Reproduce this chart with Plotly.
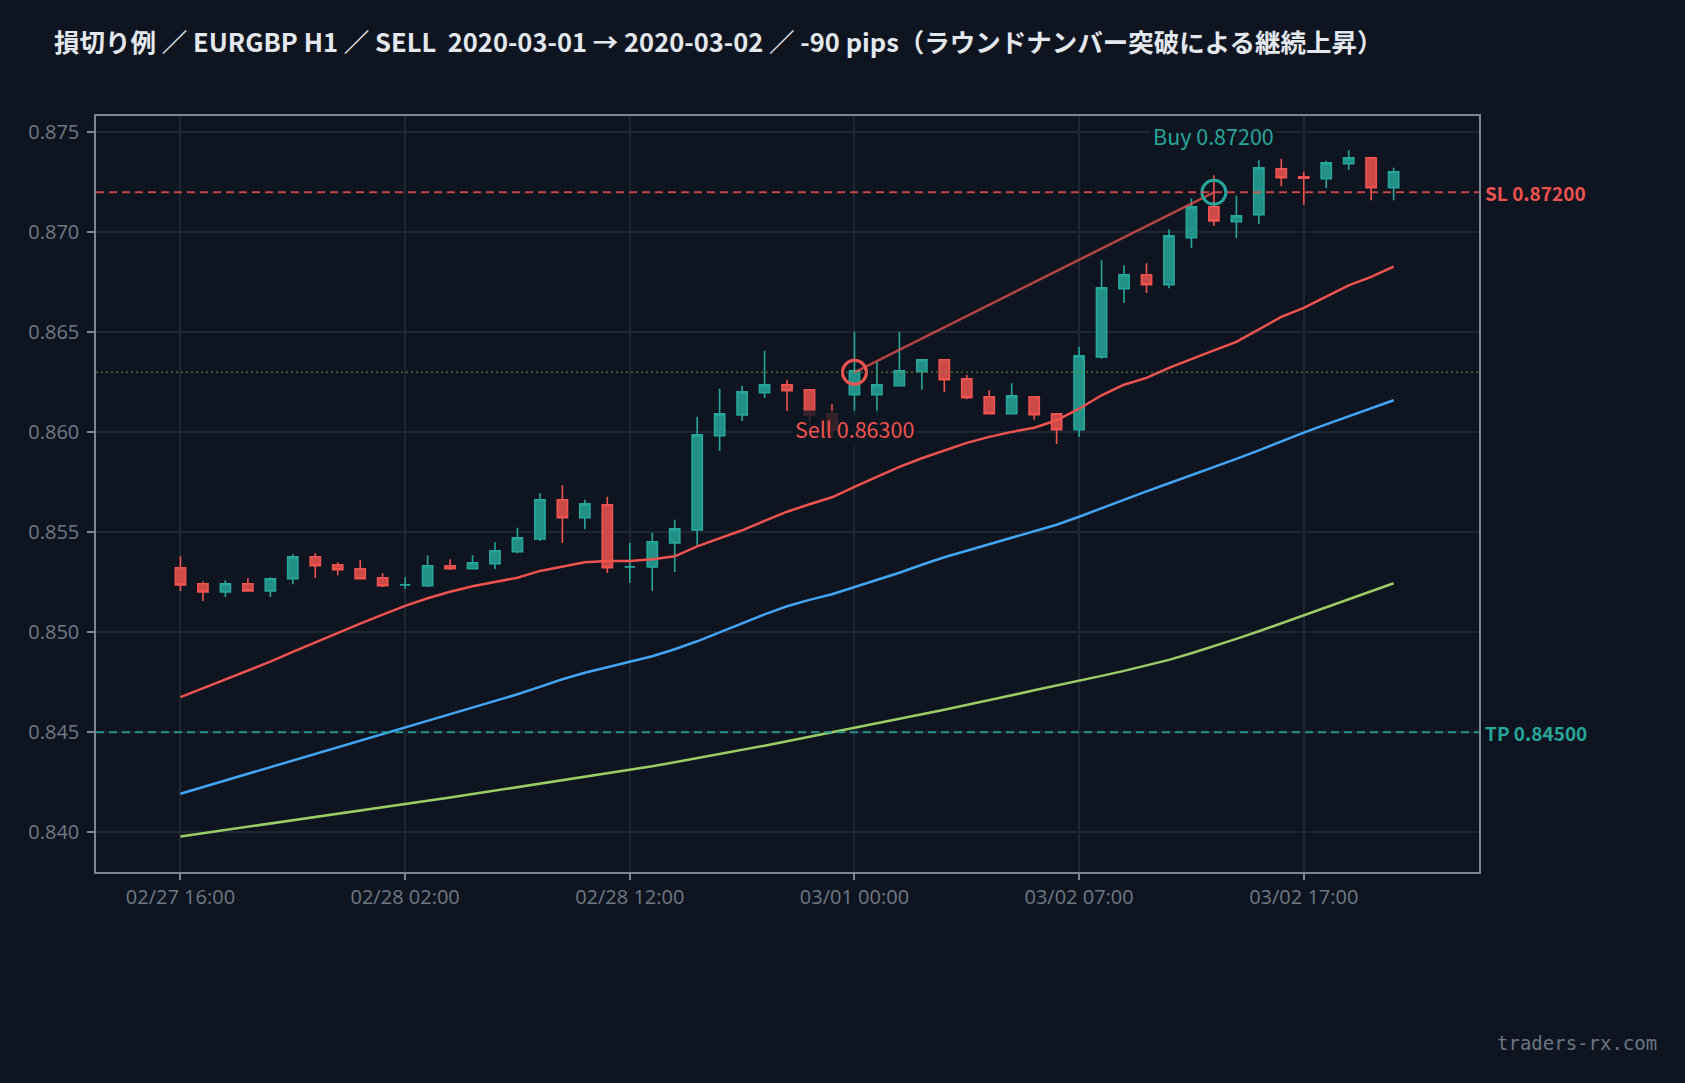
import plotly.graph_objects as go

# ---------------- data ----------------
idx = list(range(55))
opens = [0.85323, 0.85243, 0.85202, 0.85243, 0.85207, 0.85268, 0.85378, 0.85338, 0.85318, 0.85273,
         0.85237, 0.85233, 0.85333, 0.85318, 0.85343, 0.85403, 0.85467, 0.85663, 0.85573, 0.85637,
         0.85327, 0.85327, 0.85447, 0.85512, 0.85983, 0.86087, 0.86198, 0.86237, 0.86213, 0.86093,
         0.86188, 0.86188, 0.86233, 0.86303, 0.86362, 0.86267, 0.86177, 0.86093, 0.86177, 0.86092,
         0.86013, 0.86377, 0.86718, 0.86788, 0.86738, 0.86973, 0.87127, 0.87053, 0.87088, 0.87318,
         0.87277, 0.87268, 0.87343, 0.87372, 0.87223]
highs = [0.85380, 0.85253, 0.85260, 0.85270, 0.85275, 0.85390, 0.85395, 0.85350, 0.85360, 0.85295,
         0.85275, 0.85385, 0.85365, 0.85385, 0.85450, 0.85523, 0.85695, 0.85735, 0.85663, 0.85678,
         0.85448, 0.85498, 0.85563, 0.86078, 0.86218, 0.86233, 0.86408, 0.86263, 0.86213, 0.86140,
         0.86503, 0.86352, 0.86503, 0.86362, 0.86362, 0.86287, 0.86210, 0.86245, 0.86177, 0.86097,
         0.86428, 0.86860, 0.86835, 0.86845, 0.87015, 0.87170, 0.87285, 0.87183, 0.87360, 0.87368,
         0.87303, 0.87358, 0.87410, 0.87378, 0.87323]
lows = [0.85207, 0.85157, 0.85177, 0.85207, 0.85177, 0.85240, 0.85272, 0.85285, 0.85268, 0.85227,
        0.85217, 0.85227, 0.85312, 0.85318, 0.85317, 0.85395, 0.85457, 0.85447, 0.85517, 0.85297,
        0.85247, 0.85207, 0.85302, 0.85430, 0.85907, 0.86057, 0.86172, 0.86107, 0.86047, 0.85975,
        0.86085, 0.86085, 0.86233, 0.86213, 0.86202, 0.86165, 0.86093, 0.86093, 0.86063, 0.85942,
        0.85977, 0.86368, 0.86647, 0.86697, 0.86720, 0.86922, 0.87032, 0.86972, 0.87042, 0.87230,
        0.87138, 0.87222, 0.87312, 0.87160, 0.87160]
closes = [0.85237, 0.85202, 0.85243, 0.85207, 0.85268, 0.85378, 0.85333, 0.85313, 0.85268, 0.85233,
          0.85237, 0.85333, 0.85318, 0.85348, 0.85408, 0.85473, 0.85663, 0.85573, 0.85642, 0.85323,
          0.85327, 0.85453, 0.85517, 0.85987, 0.86092, 0.86203, 0.86237, 0.86208, 0.86087, 0.86010,
          0.86307, 0.86237, 0.86307, 0.86362, 0.86263, 0.86173, 0.86093, 0.86182, 0.86088, 0.86013,
          0.86382, 0.86723, 0.86788, 0.86738, 0.86983, 0.87127, 0.87057, 0.87082, 0.87323, 0.87273,
          0.87270, 0.87347, 0.87373, 0.87223, 0.87303]

ma_red = [0.84676, 0.84720, 0.84765, 0.84808, 0.84853, 0.84902, 0.84950, 0.84998, 0.85043, 0.85088,
          0.85132, 0.85170, 0.85203, 0.85230, 0.85250, 0.85273, 0.85307, 0.85330, 0.85350, 0.85356,
          0.85357, 0.85365, 0.85380, 0.85430, 0.85470, 0.85510, 0.85557, 0.85603, 0.85640, 0.85675,
          0.85727, 0.85775, 0.85827, 0.85870, 0.85910, 0.85947, 0.85977, 0.86002, 0.86023, 0.86060,
          0.86118, 0.86185, 0.86238, 0.86272, 0.86322, 0.86368, 0.86410, 0.86452, 0.86515, 0.86577,
          0.86622, 0.86680, 0.86735, 0.86777, 0.86828]
ma_blue = [0.84193, 0.84226, 0.84260, 0.84293, 0.84326, 0.84360, 0.84393, 0.84426, 0.84460, 0.84493,
           0.84526, 0.84558, 0.84590, 0.84622, 0.84655, 0.84690, 0.84727, 0.84765, 0.84798, 0.84825,
           0.84850, 0.84880, 0.84915, 0.84955, 0.85000, 0.85045, 0.85090, 0.85130, 0.85162, 0.85190,
           0.85225, 0.85262, 0.85298, 0.85338, 0.85375, 0.85408, 0.85440, 0.85475, 0.85505, 0.85538,
           0.85578, 0.85620, 0.85665, 0.85705, 0.85745, 0.85785, 0.85825, 0.85867, 0.85910, 0.85955,
           0.85998, 0.86040, 0.86080, 0.86120, 0.86160]
ma_green = [0.83979, 0.83995, 0.84011, 0.84027, 0.84043, 0.84059, 0.84075, 0.84091, 0.84108, 0.84124,
            0.84140, 0.84157, 0.84174, 0.84191, 0.84208, 0.84225, 0.84242, 0.84260, 0.84277, 0.84294,
            0.84311, 0.84330, 0.84350, 0.84370, 0.84390, 0.84412, 0.84433, 0.84455, 0.84477, 0.84499,
            0.84521, 0.84544, 0.84567, 0.84590, 0.84613, 0.84636, 0.84660, 0.84685, 0.84710, 0.84733,
            0.84757, 0.84782, 0.84807, 0.84835, 0.84862, 0.84895, 0.84930, 0.84967, 0.85005, 0.85045,
            0.85085, 0.85125, 0.85165, 0.85205, 0.85245]

tick_idx = [0, 10, 20, 30, 40, 50]
tick_labels = ["02/27 16:00", "02/28 02:00", "02/28 12:00", "03/01 00:00", "03/02 07:00", "03/02 17:00"]
y_ticks = [0.840, 0.845, 0.850, 0.855, 0.860, 0.865, 0.870, 0.875]

sell_idx, sell_price = 30, 0.86300
buy_idx, buy_price = 46, 0.87200
sl_price = 0.87200
tp_price = 0.84500
entry_price = 0.86300

title = "損切り例 ／ EURGBP H1 ／ SELL  2020-03-01 → 2020-03-02 ／ -90 pips（ラウンドナンバー突破による継続上昇）"

# ---------------- style ----------------
BG = "#0e1520"
GRID = "#1d2631"
AXIS = "#7c8692"
TICK = "#6e7985"
UP = "#26a69a"
DN = "#ef5350"
FONT = "Noto Sans CJK JP"
TFONT = "Open Sans"

fig = go.Figure()

fig.add_trace(go.Candlestick(
    x=idx, open=opens, high=highs, low=lows, close=closes,
    increasing=dict(line=dict(color=UP, width=1.6), fillcolor="rgba(38,166,154,0.85)"),
    decreasing=dict(line=dict(color=DN, width=1.6), fillcolor="rgba(239,83,80,0.85)"),
    whiskerwidth=0, showlegend=False, hoverinfo="skip"))

for ma, col in [(ma_green, "#9ccc65"), (ma_blue, "#42a5f5"), (ma_red, "#ef5350")]:
    fig.add_trace(go.Scatter(x=idx, y=ma, mode="lines", line=dict(color=col, width=2.5),
                             showlegend=False, hoverinfo="skip"))

# horizontal levels
fig.add_hline(y=sl_price, line=dict(color="rgba(239,83,80,0.8)", width=2, dash="8px,5px"))
fig.add_hline(y=tp_price, line=dict(color="rgba(38,166,154,0.85)", width=2, dash="8px,5px"))
fig.add_hline(y=entry_price, line=dict(color="rgba(110,140,60,0.7)", width=1.5, dash="2px,3px"))

# trade path
fig.add_trace(go.Scatter(x=[sell_idx, buy_idx], y=[sell_price, buy_price], mode="lines",
                         line=dict(color="rgba(239,83,80,0.75)", width=2.5),
                         showlegend=False, hoverinfo="skip"))
fig.add_trace(go.Scatter(x=[sell_idx], y=[sell_price], mode="markers",
                         marker=dict(symbol="circle-open", size=24, color=DN, line=dict(width=3, color=DN)),
                         showlegend=False, hoverinfo="skip"))
fig.add_trace(go.Scatter(x=[buy_idx], y=[buy_price], mode="markers",
                         marker=dict(symbol="circle-open", size=24, color=UP, line=dict(width=3, color=UP)),
                         showlegend=False, hoverinfo="skip"))

fig.add_annotation(x=sell_idx, y=sell_price, text="Sell 0.86300", showarrow=False, yshift=-56,
                   font=dict(family=FONT, size=21.5, color=DN), bgcolor="rgba(14,21,32,0.8)", borderpad=2)
fig.add_annotation(x=buy_idx, y=buy_price, text="Buy 0.87200", showarrow=False, yshift=57,
                   font=dict(family=FONT, size=21.5, color=UP), bgcolor="rgba(14,21,32,0.8)", borderpad=2)

fig.add_annotation(xref="paper", x=1, y=sl_price, text="SL 0.87200", showarrow=False, xanchor="left",
                   xshift=4, font=dict(family=FONT, size=19, color=DN, weight="bold"))
fig.add_annotation(xref="paper", x=1, y=tp_price, text="TP 0.84500", showarrow=False, xanchor="left",
                   xshift=4, font=dict(family=FONT, size=19, color=UP, weight="bold"))

fig.add_annotation(xref="paper", yref="paper", x=1.13, y=-0.226, text="traders-rx.com", showarrow=False,
                   xanchor="right", yanchor="middle",
                   font=dict(family="DejaVu Sans Mono", size=19, color="#6b7581"))

fig.update_layout(
    width=1685, height=1083,
    paper_bgcolor=BG, plot_bgcolor=BG,
    margin=dict(l=96, r=206, t=116, b=211),
    font=dict(family=FONT, color=TICK),
    title=dict(text=title, x=54 / 1685, xanchor="left", xref="container",
               y=1 - 43 / 1083, yanchor="middle", yref="container",
               font=dict(family=FONT, size=25.5, color="#e3e8ee", weight="bold")),
    boxgap=0.35,
    xaxis=dict(range=[-3.76, 57.8], tickvals=tick_idx, ticktext=tick_labels,
               showgrid=True, gridcolor=GRID, gridwidth=1.5, zeroline=False,
               showline=True, linecolor=AXIS, linewidth=1.5, mirror=True,
               ticks="outside", ticklen=6, tickcolor=AXIS, tickwidth=1.5,
               ticklabelstandoff=0,
               tickfont=dict(family=TFONT, size=20, color=TICK),
               rangeslider=dict(visible=False)),
    yaxis=dict(range=[0.838015, 0.875815], tickvals=y_ticks, tickformat=".3f",
               showgrid=True, gridcolor=GRID, gridwidth=1.5, zeroline=False,
               showline=True, linecolor=AXIS, linewidth=1.5, mirror=True,
               ticks="outside", ticklen=7, tickcolor=AXIS, tickwidth=1.5,
               ticklabelstandoff=4,
               tickfont=dict(family=TFONT, size=20, color=TICK)),
)

fig.write_html("out.html")
